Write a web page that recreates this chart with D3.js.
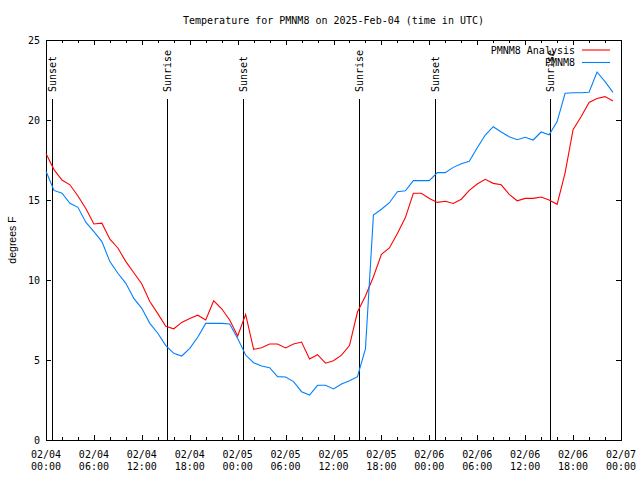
<!DOCTYPE html>
<html><head><meta charset="utf-8">
<script src="https://cdn.jsdelivr.net/npm/d3@7"></script>
<style>
html,body{margin:0;padding:0;background:#fff;}
svg{display:block;}
text{font-family:"DejaVu Sans Mono","Liberation Mono",monospace;font-size:10px;fill:#000;}
</style></head><body>
<svg id="c" width="640" height="480"></svg>
<script>
const title = "Temperature for PMNM8 on 2025-Feb-04 (time in UTC)";
const yLabel = "degrees F";
const startTime = "2025-02-04T00:00:00Z";
const endTime = "2025-02-07T00:00:00Z";
const hourOffsets = d3.range(72);
const analysisValues = [17.9,16.9,16.25,15.95,15.25,14.45,13.5,13.55,12.55,12.0,11.15,10.45,9.75,8.65,7.9,7.1,6.95,
  7.35,7.6,7.8,7.5,8.7,8.2,7.5,6.5,7.85,5.67,5.77,6.0,6.0,5.75,6.0,6.12,5.06,5.33,4.8,
  4.95,5.3,5.9,8.0,9.0,10.2,11.6,12.0,12.9,13.9,15.42,15.42,15.1,14.85,14.92,14.78,
  15.05,15.6,16.0,16.29,16.04,15.95,15.35,14.95,15.1,15.1,15.19,15.0,14.73,16.7,19.4,20.2,21.1,21.35,21.46,21.19];
const obsValues = [16.8,15.6,15.42,14.79,14.54,13.6,13.02,12.4,11.15,10.42,9.79,8.85,8.23,7.29,6.67,5.9,5.42,
  5.25,5.73,6.42,7.29,7.29,7.29,7.25,6.35,5.31,4.83,4.63,4.52,3.96,3.94,3.65,3.02,2.81,3.42,3.42,
  3.19,3.5,3.71,3.96,5.7,14.06,14.42,14.83,15.52,15.58,16.21,16.21,16.21,16.71,16.71,17.04,
  17.27,17.42,18.26,19.06,19.58,19.25,18.95,18.77,18.92,18.75,19.25,19.08,19.9,21.67,21.7,21.7,21.73,23.0,22.4,21.73];
const seriesNames = ["PMNM8 Analysis","PMNM8"];
const seriesColors = ["#ff0000","#0080ff"];
const sunEvents = ["Sunset","Sunrise","Sunset","Sunrise","Sunset","Sunrise"];
const sunTimes = ["2025-02-04T00:43:00Z","2025-02-04T15:11:00Z","2025-02-05T00:43:00Z","2025-02-05T15:14:00Z","2025-02-06T00:45:00Z","2025-02-06T15:09:00Z"];
const yTicks = [0,5,10,15,20,25];

(function(){
const svg = d3.select("#c");
const L=46, R=621, T=40, B=440;
const t0 = new Date(startTime);
const x = d3.scaleUtc().domain([t0, new Date(endTime)]).range([L,R]);
const y = d3.scaleLinear().domain([0,25]).range([B,T]);
const times = hourOffsets.map(h => new Date(t0.getTime()+h*3600e3));

svg.append("text").attr("x",(L+R)/2).attr("y",24).attr("text-anchor","middle").text(title);

const endPlus = new Date(x.domain()[1].getTime()+1);
const majorX = d3.utcHour.every(6).range(x.domain()[0], endPlus);
const minorX = d3.utcHour.every(2).range(x.domain()[0], endPlus);
const fmt1 = d3.utcFormat("%m/%d"), fmt2 = d3.utcFormat("%H:%M");

const axBottom = d3.axisBottom(x).tickValues(majorX).tickSize(-5).tickFormat("");
const axBottomMinor = d3.axisBottom(x).tickValues(minorX).tickSize(-3).tickFormat("");
const axTop = d3.axisTop(x).tickValues(majorX).tickSize(-5).tickFormat("");
const axTopMinor = d3.axisTop(x).tickValues(minorX).tickSize(-3).tickFormat("");
const axLeft = d3.axisLeft(y).tickValues(yTicks).tickSize(-5).tickFormat("");
const axRight = d3.axisRight(y).tickValues(yTicks).tickSize(-5).tickFormat("");

function styleAxis(g){ g.select(".domain").remove(); g.selectAll("line").attr("stroke","#000").attr("shape-rendering","crispEdges"); }
svg.append("g").attr("transform",`translate(0,${B})`).call(axBottomMinor).call(styleAxis);
svg.append("g").attr("transform",`translate(0,${B})`).call(axBottom).call(styleAxis);
svg.append("g").attr("transform",`translate(0,${T})`).call(axTopMinor).call(styleAxis);
svg.append("g").attr("transform",`translate(0,${T})`).call(axTop).call(styleAxis);
svg.append("g").attr("transform",`translate(${L},0)`).call(axLeft).call(styleAxis);
svg.append("g").attr("transform",`translate(${R},0)`).call(axRight).call(styleAxis);

const xl = svg.append("g");
majorX.forEach(d=>{
  const t = xl.append("text").attr("text-anchor","middle");
  t.append("tspan").attr("x",x(d)).attr("y",458).text(fmt1(d));
  t.append("tspan").attr("x",x(d)).attr("y",470).text(fmt2(d));
});
yTicks.forEach(v=>{
  svg.append("text").attr("x",40).attr("y",y(v)).attr("dy","0.35em").attr("text-anchor","end").text(v);
});
svg.append("text").attr("transform",`translate(12,${(T+B)/2}) rotate(-90)`).attr("text-anchor","middle").attr("dominant-baseline","central")
  .style("font-family","'Liberation Sans',Arial,sans-serif").style("font-size","10.5px").text(yLabel);

svg.append("rect").attr("x",L+0.5).attr("y",T+0.5).attr("width",R-L).attr("height",B-T)
  .attr("fill","none").attr("stroke","#000").attr("shape-rendering","crispEdges");

sunTimes.forEach((s,i)=>{
  const xx = Math.round(x(new Date(s)))+0.5;
  svg.append("line").attr("x1",xx).attr("x2",xx).attr("y1",B).attr("y2",99).attr("stroke","#000").attr("shape-rendering","crispEdges");
  svg.append("text").attr("transform",`translate(${xx},92) rotate(-90)`).attr("dominant-baseline","central").text(sunEvents[i]);
});

const line = d3.line().x((d,i)=>x(times[i])).y(d=>y(d));
[analysisValues, obsValues].forEach((vals,k)=>{
  svg.append("path").datum(vals).attr("d",line).attr("fill","none").attr("stroke",seriesColors[k]).attr("stroke-width",1.1);
});

seriesNames.forEach((n,k)=>{
  const yy = 50 + k*12.5;
  svg.append("text").attr("x",575).attr("y",yy).attr("dy","0.35em").attr("text-anchor","end").text(n);
  svg.append("line").attr("x1",582).attr("x2",610).attr("y1",yy).attr("y2",yy).attr("stroke",seriesColors[k]).attr("stroke-width",1.1);
});
})();
</script></body></html>
